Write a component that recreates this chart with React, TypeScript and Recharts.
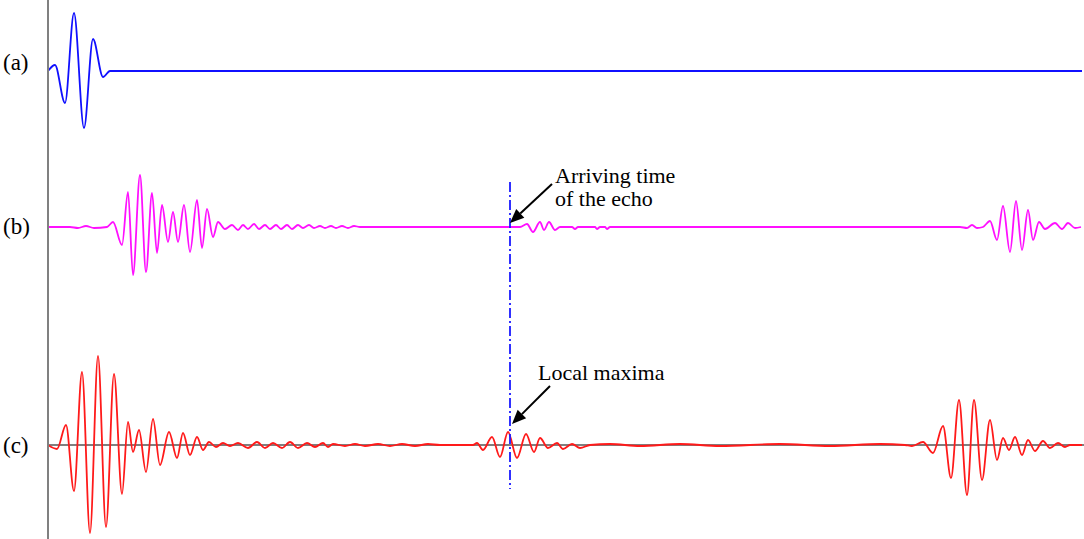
import React from "react"
import { LineChart, Line, XAxis, YAxis, ReferenceLine, ReferenceDot } from "recharts"

// time axis in samples, amplitude in display units (up = positive)
// (a) transmitted pulse
const pulseX = [48, 55, 65, 74, 84, 93, 103, 110, 1082]
const pulseAmp = [0, 6, -32, 58, -57, 32, -6, 0, 0]

// (b) received signal
const recvX = [
  48, 70, 78, 86, 94, 107, 113, 122, 128, 133, 140, 146, 152, 157, 162, 168, 173, 178, 184, 190, 197, 202, 207, 213,
  218, 225, 232, 238, 243, 248, 254, 259, 265, 270, 276, 281, 287, 292, 298, 303, 309, 314, 320, 325, 331, 336, 342,
  348, 354, 360, 520, 527, 533, 540, 544, 549, 555, 560, 572, 575, 578, 595, 597, 600, 605, 607, 610, 960, 967, 972,
  977, 983, 990, 997, 1003, 1010, 1016, 1022, 1028, 1033, 1039, 1045, 1055, 1062, 1068, 1075, 1081,
]
const recvAmp = [
  0, 0, -1, 1, -1, 0, 5, -18, 35, -48, 52, -45, 34, -26, 22, -15, 15, -15, 22, -25, 27, -21, 18, -10,
  5, -2, 2, -3, 2, -2, 3, -2, 2, -2, 2, -2, 2, -2, 2, -1, 2, -1, 1, -1, 1, -1, 1,
  -1, 1, 0, 0, 3, -5, 5, -3, 5, -3, 0, 0, -2, 0, 0, -2, 0, 0, -2, 0, 0, -1, 2,
  -1, 0, 6, -13, 21, -25, 26, -23, 17, -13, 5, -2, 4, -2, 4, -1, 0,
]

// (c) cross-correlation output
const corrX = [
  48, 57, 66, 74, 82, 90, 98, 106, 114, 122, 128, 133, 139, 146, 153, 160, 169, 177, 183, 190, 197, 203, 209, 216,
  223, 230, 238, 248, 257, 265, 273, 282, 290, 298, 307, 315, 323, 328, 333, 345, 355, 365, 378, 390, 402, 415, 428,
  440, 473, 477, 483, 492, 500, 508, 517, 526, 534, 540, 548, 557, 563, 572, 580, 590, 610, 640, 680, 720, 780, 830,
  880, 905, 912, 923, 933, 943, 951, 959, 967, 974, 982, 990, 997, 1003, 1009, 1015, 1022, 1028, 1035, 1043, 1050,
  1058, 1065, 1070, 1082,
]
const corrAmp = [
  0, -4, 20, -46, 73, -88, 89, -82, 71, -49, 23, -7, 15, -27, 26, -20, 13, -13, 12, -10, 8, -5, 3, -2,
  2, -1, 2, -3, 3, -3, 2, -3, 3, -3, 2, -2, 2, -2, 1, -1, 1, -1, 1, -1, 1, -1, 1,
  0, 0, 2, -5, 8, -12, 13, -13, 11, -7, 7, -3, 2, -4, 1, -3, 0, 1, -1, 1, -1, 1, -1,
  1, 0, -1, 3, -8, 19, -33, 45, -50, 45, -35, 25, -15, 7, -5, 8, -10, 5, -6, 4, -3,
  2, -2, 0, 0,
]

const traceLabels = ["(a)", "(b)", "(c)"]
const labelTicks = [-63, -227, -446]

const serif = "'Liberation Serif', 'Times New Roman', serif"

function toSeries(xs: number[], amps: number[], base: number) {
  return xs.map((x, i) => ({ x, v: base + amps[i] }))
}

const pulseData = toSeries(pulseX, pulseAmp, -71)
const recvData = toSeries(recvX, recvAmp, -227)
const corrData = toSeries(corrX, corrAmp, -445)

const TraceTick = (props: any) => {
  const idx = labelTicks.indexOf(props.payload.value)
  return (
    <text x={3} y={props.y} dy={7} fontSize={23} fontFamily={serif} fill="#000">
      {traceLabels[idx]}
    </text>
  )
}

const arrowShape = (p: any) => {
  const { x1, y1, x2, y2 } = p
  const ang = Math.atan2(y2 - y1, x2 - x1)
  const len = 14
  const w = 6
  const bx = x2 - len * Math.cos(ang)
  const by = y2 - len * Math.sin(ang)
  const px = -Math.sin(ang) * w
  const py = Math.cos(ang) * w
  return (
    <g>
      <line x1={x1} y1={y1} x2={bx} y2={by} stroke="#000" strokeWidth={2} />
      <polygon points={`${x2},${y2} ${bx + px},${by + py} ${bx - px},${by - py}`} fill="#000" />
    </g>
  )
}

const noteShape = (lines: string[]) => (p: any) => (
  <text x={p.cx} y={p.cy} fontSize={22} fontFamily={serif} fill="#000">
    {lines.map((t, i) => (
      <tspan key={i} x={p.cx} dy={i === 0 ? 0 : 23}>
        {t}
      </tspan>
    ))}
  </text>
)

export default function App() {
  return (
    <div style={{ position: "absolute", left: 0, top: 0, background: "#fff" }}>
      <LineChart width={1084} height={539} margin={{ top: 0, right: 0, bottom: 0, left: 0 }}>
        <XAxis type="number" dataKey="x" domain={[48, 1084]} hide allowDataOverflow />
        <YAxis
          type="number"
          domain={[-539, 0]}
          width={48}
          ticks={labelTicks}
          tick={TraceTick}
          tickLine={false}
          axisLine={{ stroke: "#808080", strokeWidth: 2 }}
          allowDataOverflow
        />
        <ReferenceLine y={-445} stroke="#555" strokeWidth={1.5} />
        <Line data={pulseData} dataKey="v" type="monotone" stroke="#1010ff" strokeWidth={1.8} dot={false} isAnimationActive={false} />
        <Line data={recvData} dataKey="v" type="monotone" stroke="#ff10ff" strokeWidth={1.8} dot={false} isAnimationActive={false} />
        <Line data={corrData} dataKey="v" type="monotone" stroke="#ff1a1a" strokeWidth={1.8} dot={false} isAnimationActive={false} />
        <ReferenceLine
          segment={[{ x: 510, y: -182 }, { x: 510, y: -489 }]}
          stroke="#1a1aff"
          strokeWidth={1.8}
          strokeDasharray="10 3 2 3"
        />
        <ReferenceLine segment={[{ x: 552, y: -184 }, { x: 510, y: -223 }]} shape={arrowShape} />
        <ReferenceLine segment={[{ x: 550, y: -386 }, { x: 512, y: -424 }]} shape={arrowShape} />
        <ReferenceDot x={555} y={-183} r={0} shape={noteShape(["Arriving time", "of the echo"])} />
        <ReferenceDot x={538} y={-380} r={0} shape={noteShape(["Local maxima"])} />
      </LineChart>
    </div>
  )
}
